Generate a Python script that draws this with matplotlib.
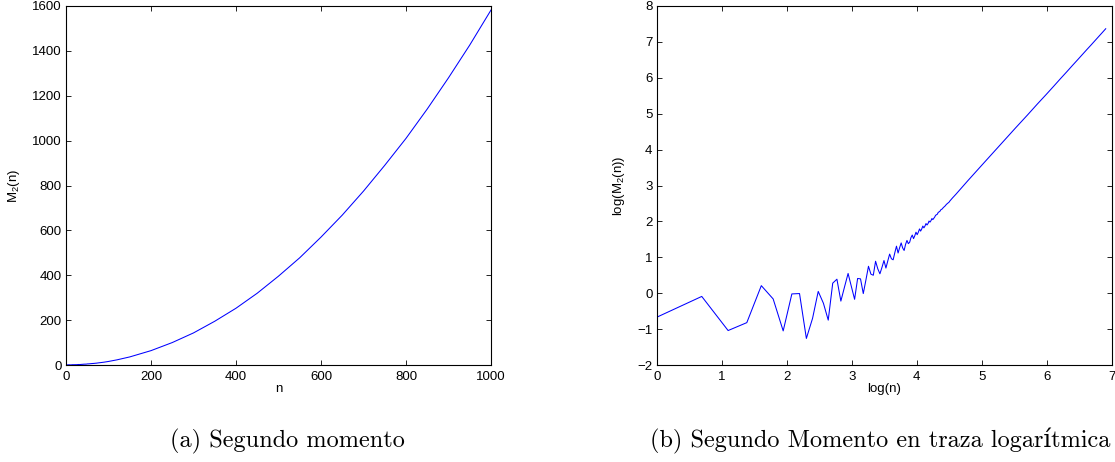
import numpy as np
import matplotlib
matplotlib.use("Agg")
import matplotlib.pyplot as plt

# Panel (b) readings for small n: log(M2(n))
n_small = list(range(1, 71)) + [72, 73, 75, 76, 78, 79, 81, 82, 85, 86, 90, 91, 95, 96, 100]
logm2_small = [
    -0.67, -0.09, -1.04, -0.82, 0.21, -0.16, -1.05, -0.02, -0.01, -1.26,
    -0.70, 0.05, -0.28, -0.75, 0.28, 0.39, -0.22, 0.18, 0.55, 0.18,
    -0.17, 0.41, 0.40, -0.01, 0.37, 0.75, 0.53, 0.50, 0.89, 0.68,
    0.54, 0.72, 0.91, 0.70, 0.90, 1.09, 0.96, 0.93, 1.13, 1.31,
    1.12, 1.27, 1.40, 1.26, 1.19, 1.36, 1.47, 1.38, 1.42, 1.55,
    1.62, 1.52, 1.60, 1.70, 1.63, 1.70, 1.79, 1.73, 1.79, 1.87,
    1.82, 1.87, 1.94, 1.90, 1.94, 2.01, 1.98, 2.02, 2.08, 2.05,
    2.12, 2.17, 2.20, 2.25, 2.28, 2.32, 2.35, 2.38, 2.44, 2.47,
    2.54, 2.57, 2.66, 2.68, 2.76,
]
# Panel (a) readings for large n: M2(n)
n_large = [120, 150, 200, 250, 300, 350, 400, 450, 500, 550, 600, 650,
           700, 750, 800, 850, 900, 950, 1000]
m2_large = [23, 36, 64, 100, 143, 195, 253, 320, 396, 478, 570, 668,
            775, 890, 1010, 1141, 1280, 1426, 1582]

left_xticks = [0, 200, 400, 600, 800, 1000]
left_yticks = [0, 200, 400, 600, 800, 1000, 1200, 1400, 1600]
right_xticks = [0, 1, 2, 3, 4, 5, 6, 7]
right_yticks = [-2, -1, 0, 1, 2, 3, 4, 5, 6, 7, 8]

plt.rcParams['font.family'] = ['Liberation Sans', 'DejaVu Sans']
plt.rcParams['mathtext.default'] = 'regular'
plt.rcParams['font.size'] = 9.5

n_all = np.array(n_small + n_large, dtype=float)
m2_all = np.concatenate([np.exp(np.array(logm2_small)), np.array(m2_large, dtype=float)])

fig = plt.figure(figsize=(11.15, 4.62), dpi=100)
ax1 = fig.add_axes([66/1115, 1-365/462, 425/1115, 359/462])
ax2 = fig.add_axes([656.7/1115, 1-365/462, 455/1115, 359/462])

ax1.plot(n_all, m2_all, color='#0000ff', lw=0.75)
ax1.set_xlim(0, 1000)
ax1.set_ylim(0, 1600)
ax1.set_xticks(left_xticks)
ax1.set_yticks(left_yticks)
ax1.set_xlabel('n', labelpad=0)
ax1.set_ylabel('M$_2$(n)', labelpad=7.5)

ax2.plot(np.log(n_all), np.log(m2_all), color='#0000ff', lw=0.75)
ax2.set_xlim(0, 7)
ax2.set_ylim(-2, 8)
ax2.set_xticks(right_xticks)
ax2.set_yticks(right_yticks)
ax2.set_xlabel('log(n)', labelpad=0)
ax2.set_ylabel('log(M$_2$(n))', labelpad=7.5)

for ax in (ax1, ax2):
    ax.tick_params(direction='in', top=True, right=True, length=3.3, width=0.6)
    ax.tick_params(axis='x', pad=4.5)
    ax.tick_params(axis='y', pad=3)
    for s in ax.spines.values():
        s.set_linewidth(0.8)

cap_font = ['cmr10', 'DejaVu Serif']
fig.text(287.5/1115, 1-447/462, '(a) Segundo momento', ha='center', va='baseline',
         fontsize=17.5, family=cap_font)
fig.text(880/1115, 1-447/462, '(b) Segundo Momento en traza logarítmica', ha='center', va='baseline',
         fontsize=17.5, family=cap_font)

fig.savefig('out.png', dpi=100)
